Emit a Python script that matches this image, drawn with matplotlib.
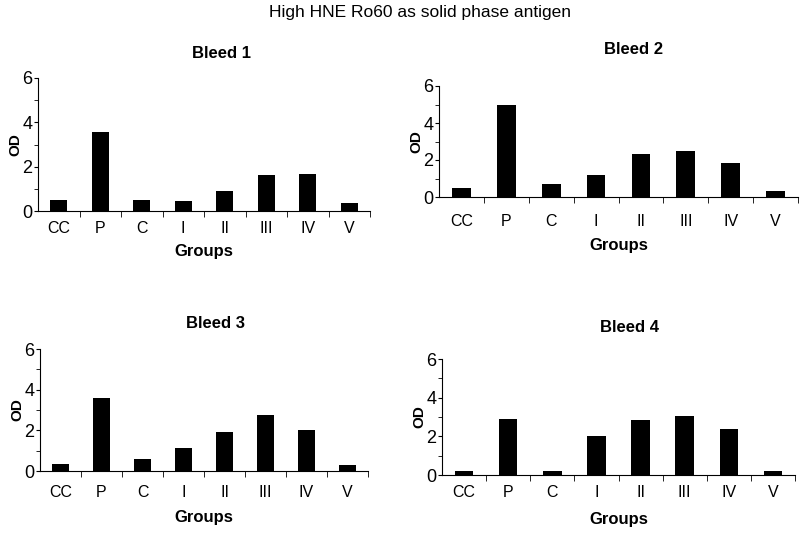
import matplotlib
matplotlib.use("Agg")
import matplotlib.pyplot as plt
import numpy as np

plt.rcParams['font.family'] = ['Liberation Sans', 'DejaVu Sans']

groups = ["CC", "P", "C", "I", "II", "III", "IV", "V"]
bleed1 = [0.50, 3.56, 0.50, 0.47, 0.90, 1.61, 1.66, 0.36]
bleed2 = [0.50, 5.00, 0.70, 1.17, 2.34, 2.50, 1.82, 0.32]
bleed3 = [0.34, 3.61, 0.59, 1.14, 1.94, 2.75, 2.04, 0.28]
bleed4 = [0.20, 2.89, 0.20, 2.03, 2.85, 3.04, 2.39, 0.20]
titles = ["Bleed 1", "Bleed 2", "Bleed 3", "Bleed 4"]

W, H = 800, 536
fig = plt.figure(figsize=(W / 100, H / 100), dpi=100)

# axes boxes in pixels: left, top, right, bottom
boxes = [(38, 78, 370, 211), (439, 86, 798, 197),
         (40, 349, 368, 471), (442, 359, 795, 475)]
title_xy = [(221, 53), (634, 50), (216, 324), (630, 327)]
tick_pad = [7, 12, 10, 7]
lab_pad = [6, 7, 7, 9]

fig.text(420 / W, 1 - 13 / H, "High HNE Ro60 as solid phase antigen",
         ha="center", va="center", fontsize=12.5)

for i, data in enumerate([bleed1, bleed2, bleed3, bleed4]):
    l, t, r, b = boxes[i]
    ax = fig.add_axes([l / W, 1 - b / H, (r - l) / W, (b - t) / H])
    x = np.arange(len(groups))
    ax.bar(x, data, width=0.42, color="black")
    ax.set_xlim(-0.5, len(groups) - 0.5)
    ax.set_ylim(0, 6)
    ax.set_yticks([0, 2, 4, 6])
    ax.set_yticks([1, 3, 5], minor=True)
    ax.set_xticks(x)
    ax.set_xticklabels(groups, fontsize=11.5)
    ax.set_xticks(np.arange(0.5, len(groups), 1), minor=True)
    ax.tick_params(axis="x", which="major", length=0, pad=tick_pad[i])
    ax.tick_params(axis="x", which="minor", length=4, direction="out")
    ax.tick_params(axis="y", which="both", length=3, direction="out",
                   labelsize=13, pad=1)
    for s in ["top", "right"]:
        ax.spines[s].set_visible(False)
    ax.set_xlabel("Groups", fontsize=12, fontweight="bold",
                  labelpad=lab_pad[i])
    ax.set_ylabel("OD", fontsize=11, fontweight="bold", labelpad=0)
    tx, ty = title_xy[i]
    fig.text(tx / W, 1 - ty / H, titles[i], ha="center",
             va="center", fontsize=12, fontweight="bold")

fig.savefig("out.png", dpi=100)
